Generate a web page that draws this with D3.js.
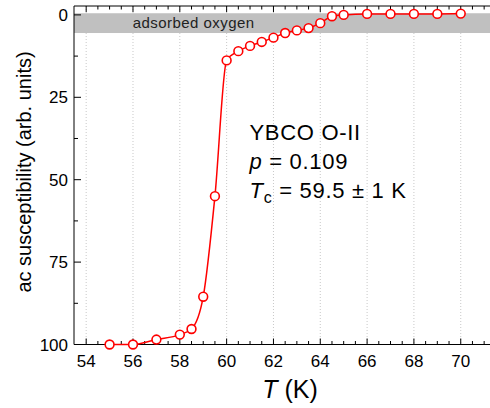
<!DOCTYPE html>
<html><head><meta charset="utf-8">
<script src="https://cdn.jsdelivr.net/npm/d3@7"></script>
<style>body{margin:0;background:#fff}svg{display:block}text{font-family:"Liberation Sans",Arial,sans-serif}</style>
</head><body><svg id="c" width="490" height="408"></svg>
<script>
const temps = [55,56,57,58,58.5,59,59.5,60,60.5,61,61.5,62,62.5,63,63.5,64,64.5,65,66,67,68,69,70];
const chi   = [100,100,98.5,97,95.3,85.5,55,13.8,11,9.4,8.2,6.9,5.5,4.7,4.0,2.5,0.4,0,-0.3,-0.3,-0.3,-0.3,-0.4];
const xTicks = [54,56,58,60,62,64,66,68,70];
const yTicks = [0,25,50,75,100];
const band = [-0.5, 5.5];
const bandLabel = "adsorbed oxygen";

const svg = d3.select("#c");
const L=74, R=490, T=6, B=344.5;
const x = d3.scaleLinear().domain([53.48, 71.25]).range([L, R]);
const y = d3.scaleLinear().domain([-2.7, 100]).range([T, B]);

// grid
svg.append("g").selectAll("line").data(xTicks).join("line")
  .attr("x1",d=>x(d)).attr("x2",d=>x(d)).attr("y1",T).attr("y2",B)
  .attr("stroke","#c8c8c8").attr("stroke-width",1).attr("stroke-dasharray","1,2");

// band
svg.append("rect").attr("x",L).attr("width",R-L)
  .attr("y",y(band[0])).attr("height",y(band[1])-y(band[0])).attr("fill","#c0c0c0");
svg.append("text").attr("x",132.7).attr("y",28.3).attr("font-size",15).attr("letter-spacing",0.45)
  .attr("fill","#222").text(bandLabel);

// axes
const minorX = d3.range(54,71.01,0.5).filter(v=>!xTicks.includes(v));
const minorY = [12.5,37.5,62.5,87.5];
const ax = svg.append("g").attr("stroke","#000").attr("stroke-width",1);
ax.append("line").attr("x1",L).attr("x2",R).attr("y1",B).attr("y2",B);
ax.append("line").attr("x1",L).attr("x2",R).attr("y1",T).attr("y2",T);
ax.append("line").attr("x1",L).attr("x2",L).attr("y1",T).attr("y2",B);
xTicks.forEach(v=>{
  ax.append("line").attr("x1",x(v)).attr("x2",x(v)).attr("y1",B).attr("y2",B-6);
  ax.append("line").attr("x1",x(v)).attr("x2",x(v)).attr("y1",T).attr("y2",T+6);
});
minorX.forEach(v=>{
  ax.append("line").attr("x1",x(v)).attr("x2",x(v)).attr("y1",B).attr("y2",B-3.5);
  ax.append("line").attr("x1",x(v)).attr("x2",x(v)).attr("y1",T).attr("y2",T+3.5);
});
yTicks.forEach(v=>ax.append("line").attr("x1",L).attr("x2",L+7).attr("y1",y(v)).attr("y2",y(v)));
minorY.forEach(v=>ax.append("line").attr("x1",L).attr("x2",L+4).attr("y1",y(v)).attr("y2",y(v)));

svg.append("g").selectAll("text").data(xTicks).join("text")
  .attr("x",d=>x(d)).attr("y",367).attr("text-anchor","middle").attr("font-size",17).text(d=>d);
svg.append("g").selectAll("text").data(yTicks).join("text")
  .attr("x",68).attr("y",d=>y(d)+6).attr("text-anchor","end").attr("font-size",17).text(d=>d);

// axis titles
const xt = svg.append("text").attr("x",290).attr("y",398).attr("text-anchor","middle").attr("font-size",25);
xt.append("tspan").attr("font-style","italic").text("T");
xt.append("tspan").text(" (K)");
svg.append("text").attr("transform","translate(31,172) rotate(-90)").attr("text-anchor","middle")
  .attr("font-size",20).text("ac susceptibility (arb. units)");

// curve
const pts = temps.map((t,i)=>[t,chi[i]]);
svg.append("path").datum(pts)
  .attr("d",d3.line().x(d=>x(d[0])).y(d=>y(d[1])).curve(d3.curveMonotoneX))
  .attr("fill","none").attr("stroke","#ff0000").attr("stroke-width",1.5);
svg.append("g").selectAll("circle").data(pts).join("circle")
  .attr("cx",d=>x(d[0])).attr("cy",d=>y(d[1])).attr("r",4.4)
  .attr("fill","#fff").attr("stroke","#ff0000").attr("stroke-width",1.6);

// annotation
const fs=22, ls=0.7;
svg.append("text").attr("x",249.5).attr("y",140).attr("font-size",fs).attr("letter-spacing",ls).text("YBCO O-II");
const a2 = svg.append("text").attr("x",249.5).attr("y",169).attr("font-size",fs).attr("letter-spacing",ls);
a2.append("tspan").attr("font-style","italic").text("p");
a2.append("tspan").text(" = 0.109");
const a3 = svg.append("text").attr("x",249.5).attr("y",198).attr("font-size",fs).attr("letter-spacing",ls);
a3.append("tspan").attr("font-style","italic").text("T");
a3.append("tspan").attr("font-size",16).attr("dy",5).text("c");
a3.append("tspan").attr("dy",-5).text(" = 59.5 ± 1 K");
</script></body></html>
